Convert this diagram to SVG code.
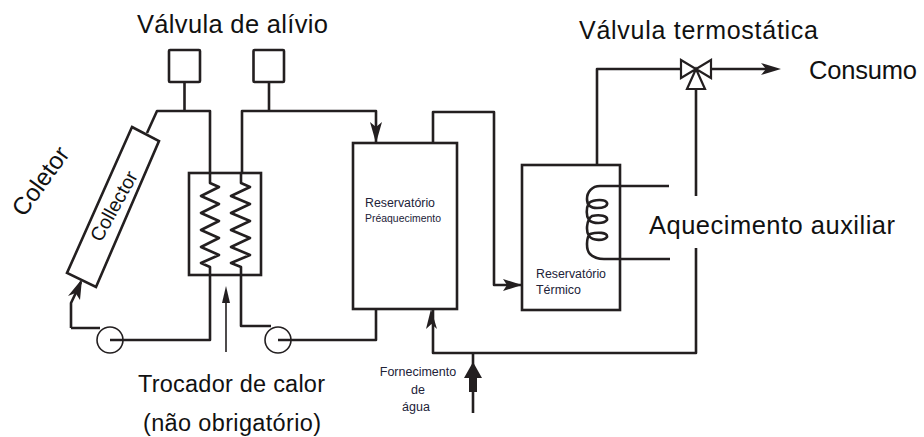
<svg xmlns="http://www.w3.org/2000/svg" width="924" height="437" viewBox="0 0 924 437">
<style>
.p{fill:none;stroke:#231f20;stroke-width:2.6;stroke-linejoin:round}
.t{fill:none;stroke:#231f20;stroke-width:1.6}
.b{fill:#fff;stroke:#231f20;stroke-width:2.6}
.h{fill:#231f20;stroke:none}
text{font-family:"Liberation Sans",Arial,sans-serif;fill:#111}
.big{font-size:25.500px}
.mid{font-size:23.500px}
.sm{fill:#222238}
</style>
<rect width="924" height="437" fill="#fff"/>
<g id="connectors">
<path class="p" d="M184.500 82V111M147 133L157 111H210V173M210 275V340H110"/>
<path class="p" d="M269 82V111M242 173V111H376V142"/>
<path class="h" d="M376 143L370 122L376 127L382 122Z"/>
<path class="p" d="M241 275V326H271M376 309V340H278"/>
<path class="p" d="M71 328V303L81 282M71 328H100"/>
<path class="h" d="M82 279L80 300L75.500 293L68 296Z"/>
<path class="t" d="M226 352V292"/>
<path class="h" d="M226 286L230 303H222Z"/>
<path class="p" d="M433 143V112H494V285H522"/>
<path class="h" d="M522 285L503 279L507 285L503 291Z"/>
<path class="p" d="M597 165V69H681M711 69H770"/>
<path class="h" d="M781 69L761 63L766 69L761 75Z"/>
<path class="p" d="M696 90V196M696 248V353H433V310"/>
<path class="h" d="M431 309L437 329L431.500 324L426 329Z"/>
<path class="p" d="M473 353V413"/>
<path class="h" d="M473 362L482 378H477V392H469V378H464Z"/>
</g>
<g id="valvula-1"><rect class="b" x="169" y="50" width="31" height="32" rx="1"/></g>
<g id="valvula-2"><rect class="b" x="253.500" y="50" width="30.500" height="32" rx="1"/></g>
<g id="coletor">
<path class="b" d="M132 127L159 141L96 287L67 273Z"/>
<text transform="translate(101 243) rotate(-61)" style="font-size:19.500px" fill="#333">Collector</text>
<text transform="translate(24 218) rotate(-54)" style="font-size:24.500px">Coletor</text>
</g>
<g id="trocador">
<rect class="b" x="189" y="173" width="72" height="102"/>
<path class="p" d="M210 173V183L219 187L201 196L219 204L201 213L219 221L201 230L219 238L201 247L219 255L201 263L210 267V275"/>
<path class="p" d="M241 173V183L250 187L231 196L250 204L231 213L250 221L231 230L250 238L231 247L250 255L231 263L241 267V275"/>
</g>
<g id="bomba-1"><circle class="t" cx="110" cy="340" r="13"/></g>
<g id="bomba-2"><circle class="t" cx="278" cy="340" r="13"/></g>
<g id="reservatorio-pre">
<rect class="b" x="353" y="143" width="104" height="166"/>
<text class="sm" x="365" y="207" style="font-size:12.500px" textLength="70" lengthAdjust="spacingAndGlyphs">Reservatório</text>
<text class="sm" x="365" y="222" style="font-size:11px" textLength="76" lengthAdjust="spacingAndGlyphs">Préaquecimento</text>
</g>
<g id="reservatorio-termico">
<rect class="b" x="522" y="165" width="98" height="145"/>
<path class="p" d="M669 186H600C592 186 587 192 587 199C587 205 590 208 597 208C604 208 608 206 607 203C606 199 594 199 589 203C586 208 586 216 589 220C593 224 604 224 607 220C608 216 600 214 592 216C586 220 586 232 589 236C593 241 604 241 607 237C608 232 597 232 590 234C586 238 586 250 590 254C594 258 598 259 604 259H670"/>
<text class="sm" x="536" y="278" style="font-size:12.500px" textLength="70" lengthAdjust="spacingAndGlyphs">Reservatório</text>
<text class="sm" x="536" y="294" style="font-size:12.500px" textLength="45" lengthAdjust="spacingAndGlyphs">Térmico</text>
</g>
<g id="valvula-termostatica">
<path class="b" style="stroke-width:2.200" d="M681 60L696 69L681 78ZM711 60L696 69L711 78ZM696 69L687 89H705Z"/>
</g>
<g id="rotulos">
<text class="big" x="137" y="33" textLength="191">Válvula de alívio</text>
<text x="579" y="39" style="font-size:25px" textLength="239">Válvula termostática</text>
<text class="big" x="809" y="79" textLength="108">Consumo</text>
<text class="big" x="649" y="234" textLength="246">Aquecimento auxiliar</text>
<text class="mid" x="138" y="392" textLength="187">Trocador de calor</text>
<text class="mid" x="143" y="431" textLength="178">(não obrigatório)</text>
<text class="sm" x="418" y="376" text-anchor="middle" style="font-size:12.500px">Fornecimento</text>
<text class="sm" x="418" y="394" text-anchor="middle" style="font-size:12.500px">de</text>
<text class="sm" x="416" y="411" text-anchor="middle" style="font-size:12.500px">água</text>
</g>
</svg>
